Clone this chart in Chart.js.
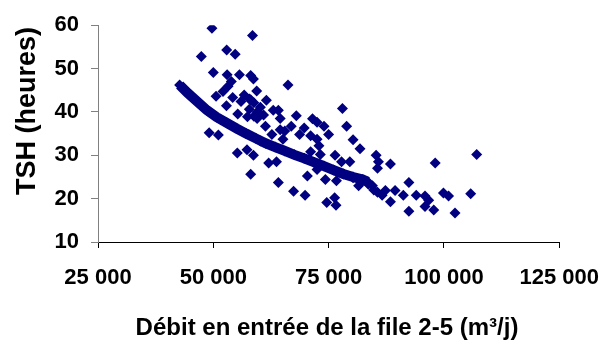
<html>
<head>
<meta charset="utf-8">
<script src="https://cdn.jsdelivr.net/npm/chart.js@4.4.0/dist/chart.umd.min.js"></script>
<style>
  body { margin: 0; background: #fff; }
  #wrap { width: 616px; height: 344px; }
</style>
</head>
<body>
<div id="wrap"><canvas id="tsh" width="616" height="344"></canvas></div>
<script>
// mesures : débit (m3/j) et TSH (heures)
var debit = [49700, 58500, 47400, 52900, 54750, 50000, 53000, 55660, 58100, 58700,
  53900, 53200, 50600, 52100, 59400, 54200, 56700, 56000, 58100, 61500,
  52850, 55300, 57800, 59500, 60200, 63000, 58800, 57400, 59500, 60900,
  58800, 57800, 49100, 51100, 55200, 57300, 58700, 58100, 62000, 63700,
  64100, 62700, 64500, 65100, 61300, 60200, 64500, 66200, 78000, 78900,
  80300, 81800, 85300, 85800, 88400, 64100, 68000, 71500, 72500, 74000,
  75000, 69700, 68700, 66900, 65500, 71100, 72500, 72900, 71100, 73200,
  76400, 77800, 79600, 67400, 69900, 74600, 76300, 76600, 81500, 84500,
  85600, 87300, 70400, 72500, 74300, 76700, 80300, 98100, 107100, 105800,
  92400, 89400, 91200, 94000, 95900, 96700, 95900, 97800, 99900, 101000,
  102400, 92400, 88400, 84800, 86600, 83600, 85600];
var tsh = [59.3, 57.6, 52.8, 54.3, 53.3, 49.1, 48.6, 48.6, 48.4, 47.6,
  47.0, 45.9, 43.6, 44.7, 44.8, 43.3, 43.9, 42.4, 42.8, 42.7,
  41.4, 39.5, 40.6, 40.0, 41.1, 40.4, 39.0, 38.9, 38.5, 39.3,
  42.1, 43.0, 35.2, 34.7, 30.5, 31.3, 30.0, 25.6, 28.2, 28.5,
  23.7, 34.8, 35.9, 33.7, 36.7, 33.3, 38.5, 46.2, 40.8, 36.7,
  33.6, 31.5, 30.0, 28.5, 28.0, 40.4, 39.1, 38.4, 37.6, 36.7,
  34.8, 36.3, 34.8, 36.7, 35.6, 34.5, 33.7, 32.2, 30.8, 30.2,
  30.0, 28.5, 28.5, 21.7, 20.8, 19.1, 20.2, 18.5, 23.0, 23.0,
  27.0, 21.9, 25.2, 26.7, 24.4, 24.1, 24.8, 28.2, 30.2, 21.1,
  23.7, 21.9, 20.8, 20.8, 20.6, 19.6, 18.2, 17.4, 21.3, 20.6,
  16.7, 17.1, 19.3, 22.0, 20.8, 23.3, 21.5];

// la bande continue (points serrés)
var debitBande = [42700, 44400, 46500, 48600, 50700, 52900, 55000, 57100, 59200, 61300,
  63400, 65500, 67600, 69700, 71800, 74000, 76100, 78200, 80300, 82400, 83500];
var tshBande = [46.2, 44.4, 42.4, 40.4, 38.8, 37.5, 36.2, 35.0, 33.9, 32.8,
  31.9, 31.0, 30.1, 29.3, 28.4, 27.5, 26.6, 25.7, 25.0, 24.4, 23.9];

var xTicks = [25000, 50000, 75000, 100000, 125000];
var yTicks = [10, 20, 30, 40, 50, 60];

var navy = '#000080';
var boldFont = "'Liberation Sans', Arial, sans-serif";

function pts(xs, ys) {
  var out = [];
  for (var i = 0; i < xs.length; i++) out.push({x: xs[i], y: ys[i]});
  return out;
}
function espace(v) {
  return String(v).replace(/\B(?=(\d{3})+(?!\d))/g, ' ');
}

var titres = {
  id: 'titres',
  afterDraw: function(chart) {
    var ctx = chart.ctx;
    ctx.save();
    ctx.fillStyle = '#000';
    ctx.textAlign = 'center';
    ctx.textBaseline = 'middle';
    ctx.font = 'bold 24px ' + boldFont;
    ctx.fillText('Débit en entrée de la file 2-5 (m³/j)', 327, 328);
    ctx.font = 'bold 27px ' + boldFont;
    ctx.translate(28, 111);
    ctx.rotate(-Math.PI / 2);
    ctx.fillText('TSH (heures)', 0, 0);
    ctx.restore();
  }
};

new Chart(document.getElementById('tsh'), {
  type: 'scatter',
  data: {
    datasets: [{
      data: pts(debitBande, tshBande),
      showLine: true,
      borderColor: navy,
      borderWidth: 10,
      backgroundColor: navy,
      pointStyle: 'rectRot',
      pointRadius: 5.5,
      pointBorderWidth: 0
    }, {
      data: pts(debit, tsh),
      backgroundColor: navy,
      borderColor: navy,
      pointStyle: 'rectRot',
      pointRadius: 5.5,
      pointBorderWidth: 0
    }]
  },
  options: {
    responsive: false,
    animation: false,
    devicePixelRatio: 1,
    layout: { padding: { top: 17, right: 44, left: 0, bottom: 0 } },
    plugins: { legend: { display: false }, tooltip: { enabled: false } },
    scales: {
      x: {
        type: 'linear', min: 25000, max: 125000,
        afterFit: function(s) { s.height = 102; },
        afterBuildTicks: function(s) { s.ticks = xTicks.map(function(v) { return {value: v}; }); },
        border: { color: '#000', width: 1 },
        grid: { drawOnChartArea: false, tickLength: 6, color: '#000' },
        ticks: {
          color: '#000', padding: 17, maxRotation: 0,
          font: { family: boldFont, size: 22, weight: 'bold' },
          callback: function(v) { return espace(v); }
        }
      },
      y: {
        min: 10, max: 60,
        afterFit: function(s) { s.width = 98; },
        afterBuildTicks: function(s) { s.ticks = yTicks.map(function(v) { return {value: v}; }); },
        border: { color: '#808080', width: 1 },
        grid: { drawOnChartArea: false, tickLength: 7, color: '#808080' },
        ticks: {
          color: '#000', padding: 12,
          font: { family: boldFont, size: 22, weight: 'bold' }
        }
      }
    }
  },
  plugins: [titres]
});
</script>
</body>
</html>
